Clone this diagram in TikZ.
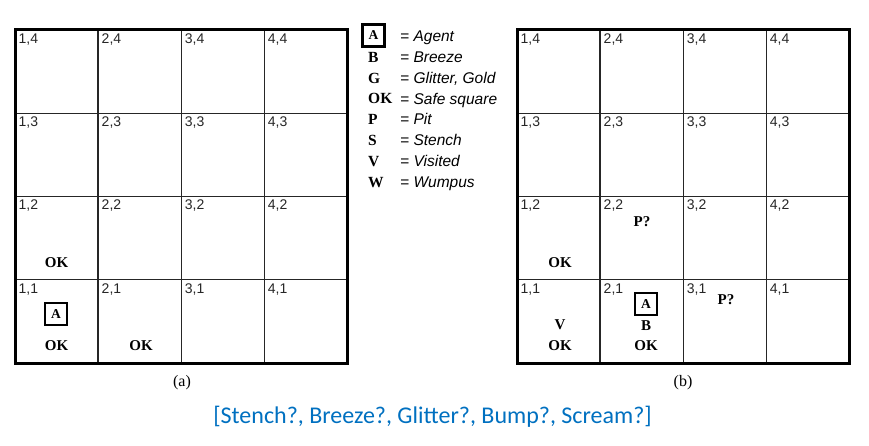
\documentclass[tikz,border=0pt]{standalone}
\usepackage{fontspec}
\setmainfont{Liberation Serif}
\newfontfamily\hvfont{Liberation Sans}
\newfontfamily\calfont{Carlito}
\usetikzlibrary{calc}
\definecolor{capblue}{HTML}{0070C0}
\tikzset{
  cell/.style={draw=black!85, line width=1.2pt, minimum size=83.25pt, inner sep=0pt, outer sep=0pt},
  frame/.style={draw=black, line width=3pt},
  clabel/.style={font=\hvfont\fontsize{14}{16}\selectfont, text=black!85, inner sep=0pt, anchor=north west},
  symb/.style={font=\bfseries\fontsize{15}{17}\selectfont, inner sep=0pt},
  agent/.style={draw=black, line width=2.2pt, font=\bfseries\fontsize{13.5}{15}\selectfont, minimum size=21.5pt, inner sep=0pt},
  legl/.style={font=\bfseries\fontsize{15.5}{17}\selectfont, inner sep=0pt, anchor=base west},
  legt/.style={font=\hvfont\itshape\fontsize{15.5}{17}\selectfont, inner sep=0pt, anchor=base west},
  sub/.style={font=\fontsize{16}{18}\selectfont, inner sep=0pt},
}
\begin{document}
\begin{tikzpicture}[x=1pt,y=-1pt]
\useasboundingbox (0,0) rectangle (869,446);
% grids
\foreach \g/\ox in {L/15, R/517}{
  \foreach \i in {1,...,4}{
    \foreach \j in {1,...,4}{
      \node[cell] (\g-\i-\j) at ({\ox+(\i-0.5)*83.1}, {30+(4-\j+0.5)*83.25}) {};
      \node[clabel] (\g-lab-\i-\j) at ($(\g-\i-\j.north west)+(3.5,3.5)$) {\i,\j};
    }
  }
  \node[frame, minimum width=332.4pt, minimum height=333pt, inner sep=0pt] (\g-frame) at ({\ox+166.2},196.5) {};
}
% (a) contents
\node[symb] (La12ok) at (56.6,263) {OK};
\node[agent] (La11a) at (56,314) {A};
\node[symb] (La11ok) at (56.6,346) {OK};
\node[symb] (La21ok) at (141,346) {OK};
% (b) contents
\node[symb] (Rb12ok) at (560,263) {OK};
\node[symb] (Rb22p) at (642,222) {P?};
\node[symb] (Rb11v) at (560,325) {V};
\node[symb] (Rb11ok) at (560,346) {OK};
\node[agent] (Rb21a) at (646,304) {A};
\node[symb] (Rb21b) at (646,326) {B};
\node[symb] (Rb21ok) at (646,346) {OK};
\node[symb] (Rb31p) at (726,300) {P?};
% legend
\node[agent, minimum size=22pt] (legA) at (373.5,35.5) {A};
\foreach \k/\l in {1/B, 2/G, 3/OK, 4/P, 5/S, 6/V, 7/W}{
  \node[legl] (leg-\k) at (368, {36+20.9*\k+5.3}) {\l};
}
\foreach \k/\t in {0/Agent, 1/Breeze, 2/{Glitter, Gold}, 3/Safe square, 4/Pit, 5/Stench, 6/Visited, 7/Wumpus}{
  \node[legt] (legt-\k) at (400, {36+20.9*\k+5.4}) {= \t};
}
% captions
\node[sub] (capa) at (182,383) {(a)};
\node[sub] (capb) at (683,383) {(b)};
\node[font=\calfont\fontsize{24}{28}\selectfont, text=capblue, inner sep=0pt] (obs) at (432.5,417) {[Stench?, Breeze?, Glitter?, Bump?, Scream?]};
\end{tikzpicture}
\end{document}
